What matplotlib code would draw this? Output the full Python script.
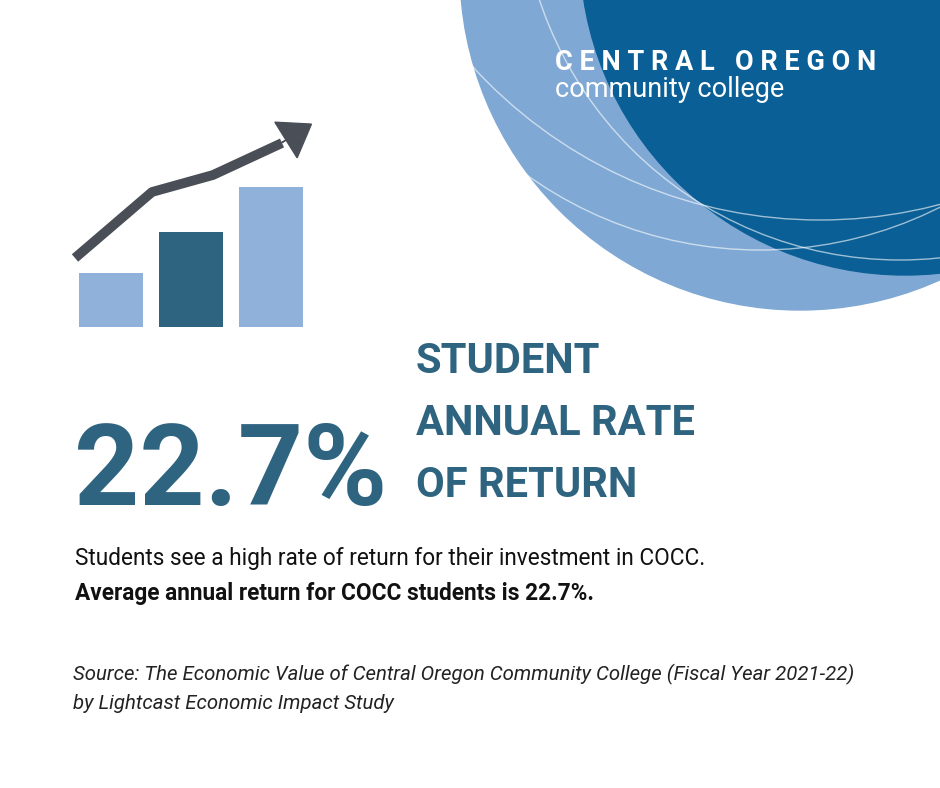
import matplotlib
matplotlib.use("Agg")
import matplotlib.pyplot as plt
from matplotlib.patches import Circle, FancyArrow

bar_values = [54, 95, 140]
bar_x = [111, 191, 271]
bar_colors = ["#8fb1da", "#2e6480", "#8fb1da"]
trend_x = [75, 152, 213, 282]
trend_y = [258, 192, 175, 143]
headline = "22.7%"
label_lines = ["STUDENT", "ANNUAL RATE", "OF RETURN"]
body_lines = ["Students see a high rate of return for their investment in COCC.",
              "Average annual return for COCC students is 22.7%."]
source_lines = ["Source: The Economic Value of Central Oregon Community College (Fiscal Year 2021-22)",
                "by Lightcast Economic Impact Study"]

W, H = 940, 788
fig = plt.figure(figsize=(9.4, 7.88), dpi=100)
ax = fig.add_axes([0, 0, 1, 1])
ax.set_xlim(0, W); ax.set_ylim(H, 0); ax.axis("off")

ax.add_patch(Circle((800, -30), 340, color="#7fa9d4", zorder=1))
ax.add_patch(Circle((905, -50), 325, color="#0a5f96", zorder=2))
for (cx, cy, r) in [(760, -150, 400), (820, -250, 470), (900, -120, 380)]:
    ax.add_patch(Circle((cx, cy), r, fill=False, ec="white", lw=1.0, alpha=0.6, zorder=3))

ax.text(555, 62, "C E N T R A L   O R E G O N", color="white", fontsize=19.5, fontweight="bold",
        family="Roboto", va="center", zorder=5)
ax.text(555, 89, "community college", color="white", fontsize=19.5,
        family="Roboto", va="center", zorder=5)

ax.bar(bar_x, [-v for v in bar_values], bottom=327, width=64, color=bar_colors, zorder=4)
ax.plot(trend_x, trend_y, color="#4a4f57", lw=7, solid_capstyle="butt", zorder=4)
ax.add_patch(FancyArrow(278, 145, 8, -5, width=0, head_width=42, head_length=30,
                        length_includes_head=False, color="#4a4f57", zorder=4))

navy = "#2e6480"
ax.text(74, 505, headline, color=navy, fontsize=82, fontweight="bold",
        family="Roboto", va="baseline", zorder=4)
for i, t in enumerate(label_lines):
    ax.text(416, 373 + i * 62, t, color=navy, fontsize=30, fontweight="bold",
            family="Roboto", va="baseline")
ax.text(75, 565, body_lines[0], color="#111111", fontsize=16.3, family="Roboto", va="baseline")
ax.text(75, 600, body_lines[1], color="#111111", fontsize=16.3, fontweight="bold",
        family="Roboto", va="baseline")
for i, t in enumerate(source_lines):
    ax.text(73, 680 + i * 29, t, color="#222222", fontsize=14.7, style="italic",
            family="Roboto", va="baseline")

fig.savefig("out.png", dpi=100, facecolor="white")
